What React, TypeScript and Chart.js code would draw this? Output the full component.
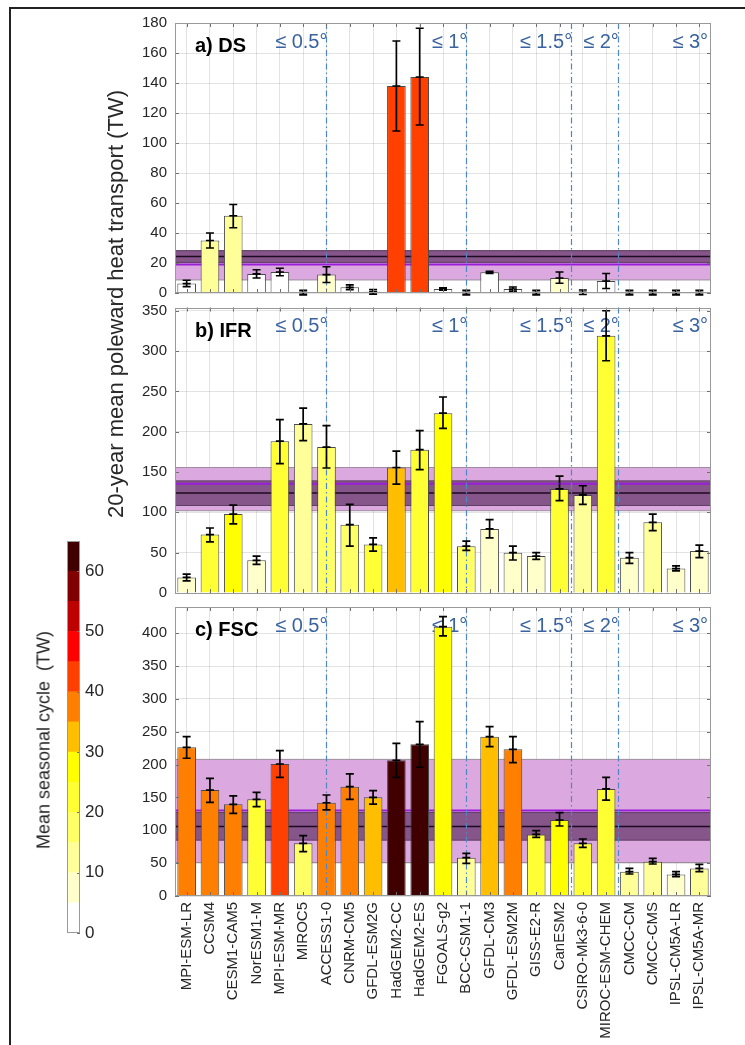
import React, { useEffect, useRef } from 'react';
import { Chart, registerables } from 'chart.js';

Chart.register(...registerables);

const FONT = '"Liberation Sans", Arial, Helvetica, sans-serif';
const TEXT = '#262626';

const models = ['MPI-ESM-LR', 'CCSM4', 'CESM1-CAM5', 'NorESM1-M', 'MPI-ESM-MR', 'MIROC5', 'ACCESS1-0', 'CNRM-CM5', 'GFDL-ESM2G', 'HadGEM2-CC', 'HadGEM2-ES', 'FGOALS-g2', 'BCC-CSM1-1', 'GFDL-CM3', 'GFDL-ESM2M', 'GISS-E2-R', 'CanESM2', 'CSIRO-Mk3-6-0', 'MIROC-ESM-CHEM', 'CMCC-CM', 'CMCC-CMS', 'IPSL-CM5A-LR', 'IPSL-CM5A-MR'];

// colour scale for the mean seasonal cycle (TW), 5 TW per class
const colormap = ['#FFFFFF', '#FFFFCC', '#FFFF99', '#FFFF66', '#FFFF33', '#FFFF00', '#FFBF00', '#FF8000', '#FF4000', '#FF0000', '#BF0000', '#800000', '#400000'];
const colorbarStep = 5;
const colorbarMax = 65;
const colorbarTicks = [0, 10, 20, 30, 40, 50, 60];

// a) DS
const dsMean = [6.3, 35, 51.5, 12.7, 14, 0.3, 12.3, 3.8, 0.8, 138, 144, 2.7, 0.3, 13.8, 2.6, 0.3, 10, 0.5, 8, 0.3, 0.3, 0.3, 0.3];
const dsLo = [4.2, 30, 43.5, 10, 11.5, -1.2, 7, 2.2, -0.7, 108, 112, 1.9, -1.2, 13.1, 1.2, -1.2, 6.5, -1, 3, -1.2, -1.2, -1.2, -1.2];
const dsHi = [8.5, 40, 59, 15.5, 16.5, 1.8, 17.5, 5.4, 2.3, 168, 176.5, 3.5, 1.8, 14.5, 4, 1.8, 14, 2, 13, 1.8, 1.8, 1.8, 1.8];
const dsSeason = [2, 12, 12, 2, 2, 1, 7, 2, 1, 42, 42, 1, 1, 2, 1, 1, 7, 1, 3, 1, 1, 1, 1];
const dsSpread = [8.7, 28.2];
const dsSpreadMean = 19;
const dsObs = [20.4, 28.2];
const dsObsMean = 24.4;

// b) IFR
const ifrMean = [19.3, 72.4, 97.8, 40.5, 188.3, 209.6, 180.9, 84.7, 60.2, 155.6, 177.7, 223, 58.1, 79.4, 50, 45.8, 129, 121.6, 318.9, 43.8, 87.6, 30.3, 52];
const ifrLo = [15.1, 63.4, 85.6, 35.6, 160.5, 189, 155, 58, 52, 135, 153, 204, 52.8, 68.4, 40.9, 41.8, 114.6, 110, 288, 36.8, 77.4, 27.4, 43.8];
const ifrHi = [23.3, 80.6, 109, 45.8, 215, 229.2, 207.5, 110, 68.4, 176, 201.4, 243, 64.3, 90.9, 58, 50, 145, 133, 350, 50, 97.8, 33.6, 59.4];
const ifrSeason = [7, 22, 27, 7, 22, 12, 17, 17, 22, 32, 22, 27, 17, 8, 8, 8, 22, 12, 22, 8, 12, 7, 8];
const ifrSpread = [102, 155.6];
const ifrSpreadMean = 135.5;
const ifrObs = [108.5, 139];
const ifrObsMean = 124;

// c) FSC
const fscMean = [226.4, 161.4, 139.6, 147.2, 201, 80.2, 142, 166.5, 150.3, 206.5, 231, 410, 58.3, 242.6, 223.3, 93.8, 115.7, 80.2, 163, 37, 52.2, 32.9, 42];
const fscLo = [209.7, 142.6, 125.9, 136, 180.7, 67.5, 131, 147.2, 140, 180.7, 196, 395.9, 49.8, 227.4, 203, 89.3, 106.6, 74, 146, 33.5, 48.7, 29.4, 37];
const fscHi = [242.6, 179.2, 152.3, 157.9, 221.3, 91.8, 153.8, 185.8, 160.4, 232.5, 265.4, 425.3, 65, 257.8, 242.6, 99.4, 126.9, 86.8, 180.7, 42, 57.3, 37, 48.1];
const fscSeason = [37, 37, 37, 22, 42, 17, 37, 37, 32, 62, 62, 27, 12, 32, 37, 22, 27, 22, 22, 12, 12, 7, 12];
const fscSpread = [51, 208];
const fscSpreadMean = 130;
const fscObs = [85, 127];
const fscObsMean = 106;

// resolution groups
const resLines = [6, 12, 16.5, 18.5];
const resLabels = ['≤ 0.5°', '≤ 1°', '≤ 1.5°', '≤ 2°', '≤ 3°'];
const resLabelAnchors = [6, 12, 16.5, 18.5, 22.33];

const colorFor = (v: number) => colormap[Math.min(colormap.length - 1, Math.floor(v / colorbarStep))];

type Panel = {
  title: string; mean: number[]; lo: number[]; hi: number[]; season: number[];
  spread: number[]; spreadMean: number; obs: number[]; obsMean: number;
  max: number; step: number;
};

const panels: Panel[] = [
  { title: 'a) DS', mean: dsMean, lo: dsLo, hi: dsHi, season: dsSeason, spread: dsSpread, spreadMean: dsSpreadMean, obs: dsObs, obsMean: dsObsMean, max: 180, step: 20 },
  { title: 'b) IFR', mean: ifrMean, lo: ifrLo, hi: ifrHi, season: ifrSeason, spread: ifrSpread, spreadMean: ifrSpreadMean, obs: ifrObs, obsMean: ifrObsMean, max: 354, step: 50 },
  { title: 'c) FSC', mean: fscMean, lo: fscLo, hi: fscHi, season: fscSeason, spread: fscSpread, spreadMean: fscSpreadMean, obs: fscObs, obsMean: fscObsMean, max: 440, step: 50 },
];

const panelPlugin = (p: Panel) => ({
  id: 'panelDecor',
  beforeDatasetsDraw(chart: any) {
    const { ctx, chartArea: a, scales: { x, y } } = chart;
    ctx.save();
    const band = (lo: number, hi: number, fill: string, edge: string) => {
      const t = y.getPixelForValue(hi);
      const b = y.getPixelForValue(lo);
      ctx.fillStyle = fill;
      ctx.fillRect(a.left, t, a.right - a.left, b - t);
      ctx.strokeStyle = edge;
      ctx.lineWidth = 1;
      ctx.beginPath();
      ctx.moveTo(a.left, t); ctx.lineTo(a.right, t);
      ctx.moveTo(a.left, b); ctx.lineTo(a.right, b);
      ctx.stroke();
    };
    const hline = (v: number, color: string, w: number) => {
      const py = y.getPixelForValue(v);
      ctx.strokeStyle = color;
      ctx.lineWidth = w;
      ctx.beginPath();
      ctx.moveTo(a.left, py); ctx.lineTo(a.right, py);
      ctx.stroke();
    };
    band(p.spread[0], p.spread[1], '#DBA9DF', '#9C8C9E');
    band(p.obs[0], p.obs[1], '#86568A', '#5E3E62');
    hline(p.spreadMean, '#9A1ED8', 2);
    hline(p.obsMean, '#1E0A22', 1.5);

    ctx.fillStyle = '#000';
    ctx.font = `bold 20px ${FONT}`;
    ctx.textAlign = 'left';
    ctx.textBaseline = 'alphabetic';
    ctx.fillText(p.title, a.left + 20, a.top + 29);
    ctx.fillStyle = '#3A63A0';
    ctx.font = `20px ${FONT}`;
    ctx.textAlign = 'right';
    resLabels.forEach((t, i) => ctx.fillText(t, x.getPixelForValue(resLabelAnchors[i]) + 1, a.top + 24.5));
    ctx.restore();
  },
  afterDatasetsDraw(chart: any) {
    const { ctx, chartArea: a, scales: { x, y } } = chart;
    ctx.save();
    // resolution separators
    ctx.strokeStyle = '#4F86C6';
    ctx.lineWidth = 1.2;
    ctx.setLineDash([6, 3, 1.5, 3]);
    resLines.forEach((v) => {
      const px = Math.round(x.getPixelForValue(v)) + 0.5;
      ctx.beginPath();
      ctx.moveTo(px, a.top); ctx.lineTo(px, a.bottom);
      ctx.stroke();
    });
    ctx.setLineDash([]);
    // error bars
    ctx.strokeStyle = '#000';
    ctx.lineWidth = 1.7;
    const cw = 4;
    p.mean.forEach((m, i) => {
      const px = x.getPixelForValue(i);
      const yl = y.getPixelForValue(p.lo[i]);
      const yh = y.getPixelForValue(p.hi[i]);
      const ym = y.getPixelForValue(m);
      ctx.beginPath();
      ctx.moveTo(px, yl); ctx.lineTo(px, yh);
      ctx.moveTo(px - cw, yl); ctx.lineTo(px + cw, yl);
      ctx.moveTo(px - cw, yh); ctx.lineTo(px + cw, yh);
      ctx.moveTo(px - cw, ym); ctx.lineTo(px + cw, ym);
      ctx.stroke();
    });
    // inner tick marks
    ctx.strokeStyle = '#707070';
    ctx.lineWidth = 1;
    ctx.beginPath();
    models.forEach((_, i) => {
      const px = Math.round(x.getPixelForValue(i)) + 0.5;
      ctx.moveTo(px, a.top); ctx.lineTo(px, a.top + 4);
      ctx.moveTo(px, a.bottom); ctx.lineTo(px, a.bottom - 4);
    });
    y.ticks.forEach((t: any) => {
      const py = Math.round(y.getPixelForValue(t.value)) + 0.5;
      ctx.moveTo(a.left, py); ctx.lineTo(a.left + 4, py);
      ctx.moveTo(a.right, py); ctx.lineTo(a.right - 4, py);
    });
    ctx.stroke();
    // box
    ctx.strokeStyle = '#999999';
    ctx.strokeRect(Math.round(a.left) + 0.5, Math.round(a.top) + 0.5, Math.round(a.right - a.left) - 1, Math.round(a.bottom - a.top) - 1);
    ctx.restore();
  },
});

const makePanel = (canvas: HTMLCanvasElement, p: Panel, padTop: number, padBottom: number, bottom: boolean) =>
  new Chart(canvas, {
    type: 'bar',
    data: {
      labels: models,
      datasets: [{
        data: p.mean,
        backgroundColor: p.season.map(colorFor),
        borderColor: '#4A4A4A',
        borderWidth: 1,
        barPercentage: 0.8,
        categoryPercentage: 1,
      }],
    },
    options: {
      animation: false,
      responsive: false,
      maintainAspectRatio: false,
      events: [],
      layout: { padding: { top: padTop, bottom: padBottom, left: 0, right: 34 } },
      plugins: { legend: { display: false }, tooltip: { enabled: false } },
      scales: {
        x: {
          grid: { offset: false, color: 'rgba(0,0,0,0.11)', drawTicks: false },
          border: { display: false },
          ticks: bottom
            ? { autoSkip: false, maxRotation: 90, minRotation: 90, padding: 6, color: TEXT, font: { family: FONT, size: 15 } }
            : { display: false },
          afterFit: (s: any) => { s.height = bottom ? 149 : 0; },
        },
        y: {
          min: 0,
          max: p.max,
          ticks: { stepSize: p.step, includeBounds: false, padding: 8, color: TEXT, font: { family: FONT, size: 15 } },
          grid: { color: 'rgba(0,0,0,0.11)', drawTicks: false },
          border: { display: false },
          afterFit: (s: any) => { s.width = 175; },
        },
      },
    } as any,
    plugins: [panelPlugin(p)],
  });

const colorbarPlugin = {
  id: 'cbDecor',
  afterDatasetsDraw(chart: any) {
    const { ctx, chartArea: a, scales: { y } } = chart;
    ctx.save();
    ctx.strokeStyle = '#707070';
    ctx.lineWidth = 1;
    ctx.beginPath();
    y.ticks.forEach((t: any) => {
      const py = Math.round(y.getPixelForValue(t.value)) + 0.5;
      ctx.moveTo(a.right, py); ctx.lineTo(a.right - 3, py);
    });
    ctx.stroke();
    ctx.strokeStyle = '#999999';
    ctx.strokeRect(Math.round(a.left) + 0.5, Math.round(a.top) + 0.5, Math.round(a.right - a.left) - 1, Math.round(a.bottom - a.top) - 1);
    ctx.restore();
  },
};

const makeColorbar = (canvas: HTMLCanvasElement) =>
  new Chart(canvas, {
    type: 'bar',
    data: {
      labels: ['cb'],
      datasets: colormap.map((c) => ({
        data: [colorbarStep],
        backgroundColor: c,
        borderWidth: 0,
        barPercentage: 1,
        categoryPercentage: 1,
      })),
    },
    options: {
      animation: false,
      responsive: false,
      maintainAspectRatio: false,
      events: [],
      layout: { padding: { top: 21, bottom: 27, left: 67, right: 10 } },
      plugins: { legend: { display: false }, tooltip: { enabled: false } },
      scales: {
        x: { display: false, stacked: true },
        y: {
          stacked: true,
          position: 'right',
          min: 0,
          max: colorbarMax,
          afterBuildTicks: (s: any) => { s.ticks = colorbarTicks.map((v) => ({ value: v })); },
          ticks: { padding: 5, color: TEXT, font: { family: FONT, size: 17 } },
          grid: { display: false, drawTicks: false },
          border: { display: false },
          afterFit: (s: any) => { s.width = 40; },
        },
      },
    } as any,
    plugins: [colorbarPlugin],
  });

export default function App() {
  const aRef = useRef<HTMLCanvasElement>(null);
  const bRef = useRef<HTMLCanvasElement>(null);
  const cRef = useRef<HTMLCanvasElement>(null);
  const cbRef = useRef<HTMLCanvasElement>(null);

  useEffect(() => {
    const charts = [
      makePanel(aRef.current!, panels[0], 23, 17, false),
      makePanel(bRef.current!, panels[1], 17.5, 16, false),
      makePanel(cRef.current!, panels[2], 17, 0, true),
      makeColorbar(cbRef.current!),
    ];
    return () => charts.forEach((c) => c.destroy());
  }, []);

  const abs = (left: number, top: number): React.CSSProperties => ({ position: 'absolute', left, top });

  return (
    <div style={{ position: 'absolute', left: 0, top: 0, width: 745, height: 1045, overflow: 'hidden', background: '#fff', fontFamily: FONT }}>
      <div style={{ position: 'absolute', left: 9, top: 7, width: 900, height: 1200, borderTop: '2px solid #222', borderLeft: '2px solid #222' }} />
      <canvas ref={aRef} width={745} height={310} style={abs(0, 0)} />
      <canvas ref={bRef} width={745} height={320} style={abs(0, 290)} />
      <canvas ref={cRef} width={745} height={455} style={abs(0, 590)} />
      <canvas ref={cbRef} width={130} height={440} style={abs(0, 520)} />
      <div style={{ position: 'absolute', left: 116, top: 304, transform: 'translate(-50%, -50%) rotate(-90deg)', whiteSpace: 'nowrap', fontSize: 22, color: TEXT }}>
        20-year mean poleward heat transport (TW)
      </div>
      <div style={{ position: 'absolute', left: 44, top: 740, transform: 'translate(-50%, -50%) rotate(-90deg)', whiteSpace: 'nowrap', fontSize: 18, color: TEXT }}>
        Mean seasonal cycle&nbsp; (TW)
      </div>
    </div>
  );
}
